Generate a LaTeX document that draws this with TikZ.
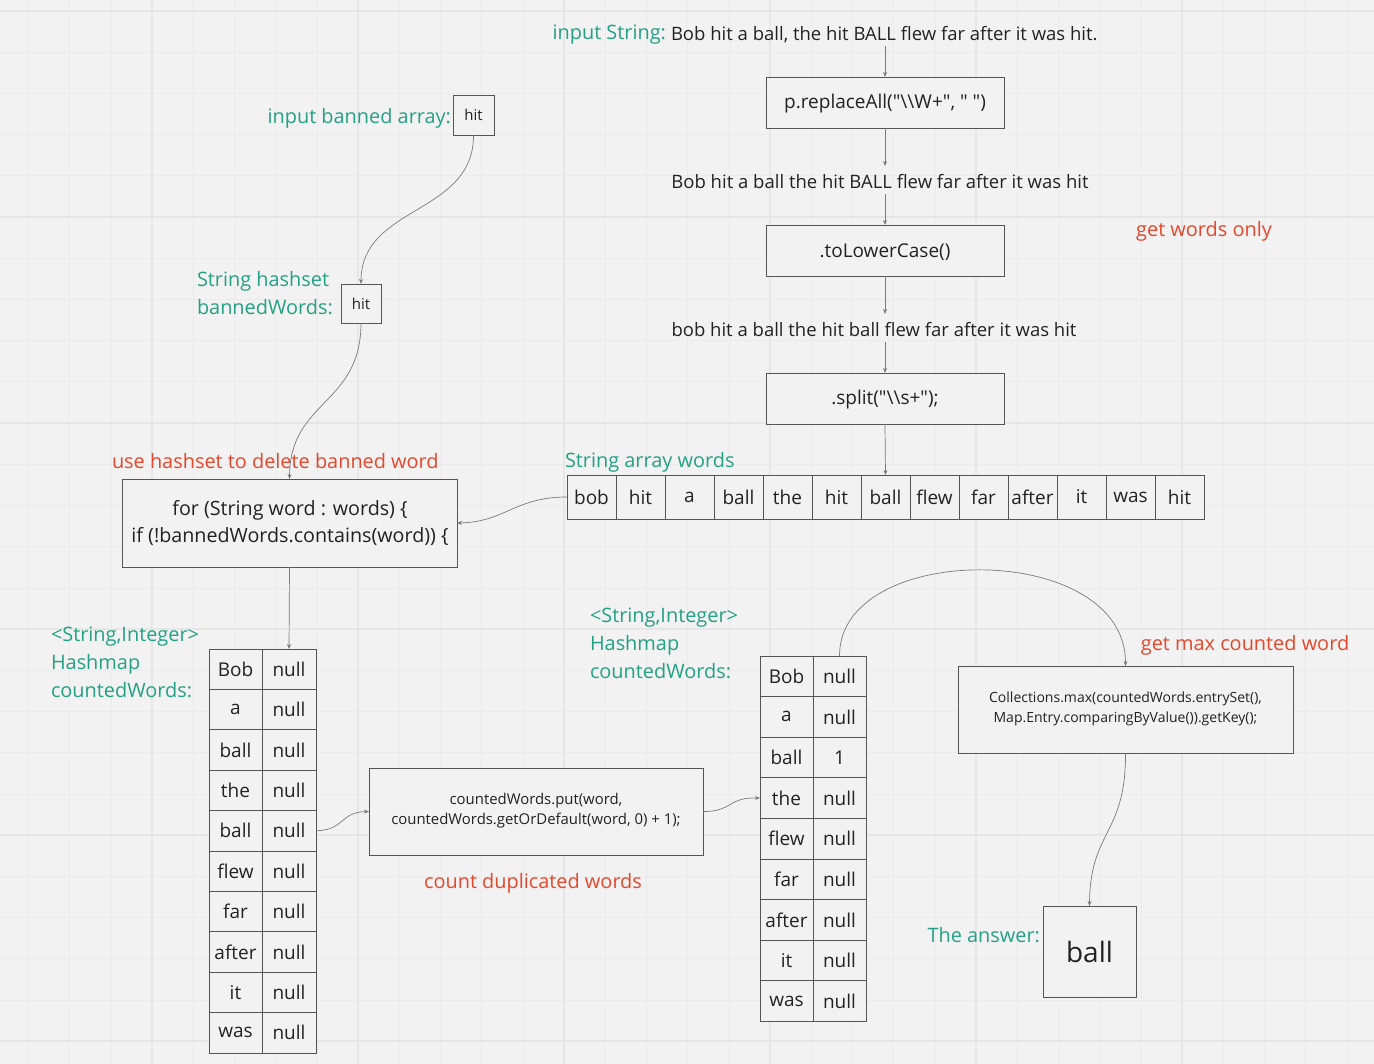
\documentclass[tikz,border=0pt]{standalone}
\usepackage{fontspec}
\setmainfont{Open Sans}[Ligatures=TeXOff]
\usetikzlibrary{arrows.meta}
\newcommand{\dqt}{\symbol{34}}
\newcommand{\bsl}{\symbol{92}}
\definecolor{bg}{HTML}{F2F2F2}
\definecolor{gridminor}{HTML}{EBEBEB}
\definecolor{gridmajor}{HTML}{E6E6E6}
\definecolor{tgreen}{HTML}{24A184}
\definecolor{tred}{HTML}{E4482C}
\definecolor{ink}{HTML}{222222}
\definecolor{edge}{HTML}{555555}
\definecolor{conn}{HTML}{7A7A7A}
\tikzset{
  every node/.style={inner sep=0pt, outer sep=0pt, text=ink},
  codebox/.style={draw=edge, line width=0.9pt, fill=bg, align=center},
  cell/.style={draw=edge, line width=0.9pt, fill=bg, font=\fontsize{19}{22}\selectfont},
  glabel/.style={text=tgreen, font=\fontsize{19.9}{28}\selectfont, align=left},
  rlabel/.style={text=tred, font=\fontsize{19.9}{24}\selectfont},
  plain/.style={font=\fontsize{18.5}{22}\selectfont},
  conarrow/.style={draw=conn, line width=0.7pt, -{Stealth[length=5pt,width=4pt]}},
  conline/.style={draw=conn, line width=0.7pt},
}
\begin{document}
\begin{tikzpicture}[x=1pt,y=-1pt]
\useasboundingbox (0,0) rectangle (1374,1064);
\fill[bg] (0,0) rectangle (1374,1064);
% grid
\foreach \i in {-3,...,30} {
  \draw[gridminor, line width=0.6pt] ({152+41.2*\i},0) -- ({152+41.2*\i},1064);
}
\foreach \i in {0,...,26} {
  \draw[gridminor, line width=0.6pt] (0,{11+41.2*\i}) -- (1374,{11+41.2*\i});
}
\foreach \i in {0,...,6} {
  \draw[gridmajor, line width=1.2pt] ({152+206*\i},0) -- ({152+206*\i},1064);
  \draw[gridmajor, line width=1.2pt] (0,{11+206*\i}) -- (1374,{11+206*\i});
}

% ---------- top pipeline ----------
\node[glabel, anchor=east] (inlab) at (666,35) {input String:};
\node[plain, anchor=west] (instr) at (671,35) {Bob hit a ball, the hit BALL flew far after it was hit.};
\coordinate (instrb) at (885,46);
\node[codebox, minimum width=238, minimum height=51] (repl) at (885,102.5) {};
\node (repltxt) at (885,104) {\fontsize{19}{22}\selectfont p.replaceAll(\dqt\bsl\bsl W+\dqt, \dqt\ \dqt)};
\node[plain] (s1) at (880,182) {Bob hit a ball the hit BALL flew far after it was hit};
\node[codebox, minimum width=238, minimum height=51] (lower) at (885,250.5) {};
\node (lowertxt) at (885,252) {\fontsize{19}{22}\selectfont .toLowerCase()};
\node[plain] (s2) at (874,330) {bob hit a ball the hit ball flew far after it was hit};
\node[codebox, minimum width=238, minimum height=51] (split) at (885,398.5) {};
\node (splittxt) at (885,400) {\fontsize{19}{22}\selectfont .split(\dqt\bsl\bsl s+\dqt);};
\node[rlabel] (gwo) at (1204,231) {get words only};

\draw[conarrow] (instrb) -- (repl.north);
\draw[conarrow] (repl.south) -- (885,166);
\draw[conarrow] (885,194) -- (lower.north);
\draw[conarrow] (lower.south) -- (885,314);
\draw[conarrow] (885,342) -- (split.north);

% ---------- string array ----------
\node[glabel, anchor=west] (arrlab) at (565,462) {String array words};
\foreach \w [count=\k] in {bob,hit,a,ball,the,hit,ball,flew,far,after,it,was,hit} {
  \node[cell, minimum width=49, minimum height=44] (a\k) at ({567+49*(\k-1)+24.5},497) {\w};
}
\draw[conarrow] (split.south) -- (a7.north);

% ---------- banned ----------
\node[glabel, anchor=east] (banlab) at (451,118) {input banned array:};
\node[codebox, minimum width=41, minimum height=40, font=\fontsize{15}{18}\selectfont] (ban) at (473.5,115) {hit};
\node[glabel, anchor=west] (hslab) at (197,293) {String hashset\\bannedWords:};
\node[codebox, minimum width=40, minimum height=39, font=\fontsize{15}{18}\selectfont] (hs) at (361,303.5) {hit};
\draw[conarrow] (ban.south) .. controls (474,215) and (361,205) .. (hs.north);

% ---------- for box ----------
\node[rlabel, anchor=west] (uhl) at (112,461) {use hashset to delete banned word};
\node[codebox, minimum width=335, minimum height=88] (forbox) at (289.5,523) {};
\node[align=center, font=\fontsize{19.7}{27}\selectfont] (fortxt) at (290,523) {for (String word : words) \{\\if (!bannedWords.contains(word)) \{};
\draw[conarrow] (hs.south) .. controls (361,405) and (290,400) .. (forbox.north);
\draw[conarrow] (a1.west) .. controls (515,497) and (505,522) .. (forbox.east);

% ---------- table 1 ----------
\node[glabel, anchor=north west] (t1lab) at (51,627) {<String,Integer>\\Hashmap\\countedWords:};
\foreach \kk/\vv [count=\r] in {Bob/null,a/null,ball/null,the/null,ball/null,flew/null,far/null,after/null,it/null,was/null} {
  \node[cell, minimum width=53, minimum height=40.4] (k\r) at (235.5,{649+40.4*(\r-1)+20.2}) {\kk};
  \node[cell, minimum width=54, minimum height=40.4] (v\r) at (289,{649+40.4*(\r-1)+20.2}) {\vv};
}
\draw[conarrow] (forbox.south) -- (v1.north);

% ---------- put box ----------
\node[codebox, minimum width=334, minimum height=87] (put) at (536,811.5) {};
\node[align=center, font=\fontsize{14.9}{20}\selectfont] (puttxt) at (536,811) {countedWords.put(word,\\countedWords.getOrDefault(word, 0) + 1);};
\node[rlabel] (cdw) at (533,883) {count duplicated words};
\draw[conarrow] (v5.east) .. controls (345,830) and (340,812) .. (put.west);

% ---------- table 2 ----------
\node[glabel, anchor=north west] (t2lab) at (590,608) {<String,Integer>\\Hashmap\\countedWords:};
\foreach \kk/\vv [count=\r] in {Bob/null,a/null,ball/1,the/null,flew/null,far/null,after/null,it/null,was/null} {
  \node[cell, minimum width=53, minimum height=40.6] (m\r) at (786.5,{656+40.6*(\r-1)+20.3}) {\kk};
  \node[cell, minimum width=53, minimum height=40.6] (n\r) at (839.5,{656+40.6*(\r-1)+20.3}) {\vv};
}
\draw[conarrow] (put.east) .. controls (732,812) and (728,797) .. (m4.west);

% ---------- collections ----------
\node[rlabel] (gmc) at (1245,645) {get max counted word};
\node[codebox, minimum width=335, minimum height=87] (coll) at (1125.5,709.5) {};
\node[align=center, font=\fontsize{14}{20}\selectfont] (colltxt) at (1125.5,708.5) {Collections.max(countedWords.entrySet(),\\Map.Entry.comparingByValue()).getKey();};
\draw[conarrow] (n1.north) .. controls (839,540) and (1126,540) .. (coll.north);

% ---------- answer ----------
\node[glabel, anchor=east] (anslab) at (1040,935) {The answer:};
\node[codebox, minimum width=93, minimum height=91, font=\fontsize{28}{32}\selectfont] (ans) at (1089.5,951.5) {ball};
\draw[conarrow] (coll.south) .. controls (1126,835) and (1090,830) .. (ans.north);
\end{tikzpicture}
\end{document}
